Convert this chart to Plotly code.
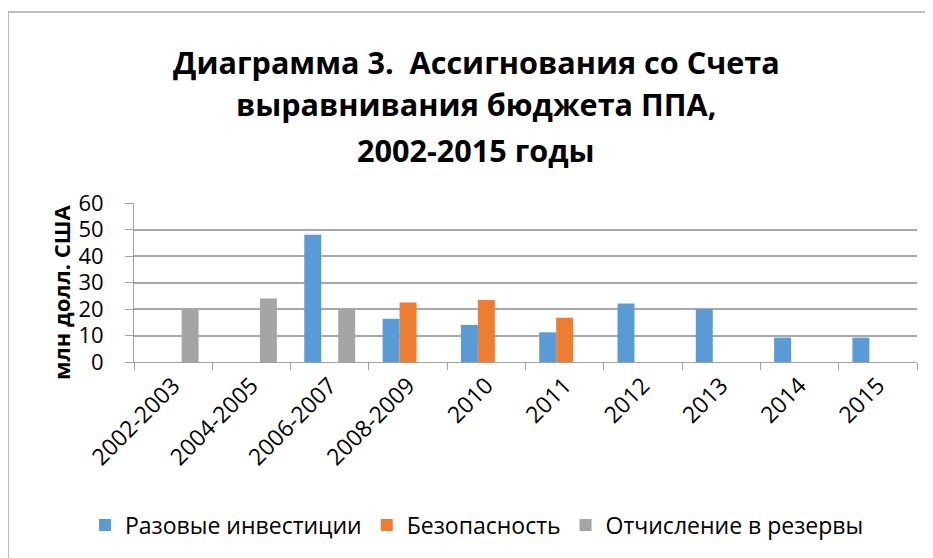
import plotly.graph_objects as go

categories = ["2002-2003", "2004-2005", "2006-2007", "2008-2009", "2010",
              "2011", "2012", "2013", "2014", "2015"]
razovye = [None, None, 48, 16.3, 14, 11.2, 22.1, 20, 9.2, 9.2]
bezopasnost = [None, None, None, 22.5, 23.4, 16.7, None, None, None, None]
otchislenie = [20, 24, 20, None, None, None, None, None, None, None]

series_names = ["Разовые инвестиции", "Безопасность", "Отчисление в резервы"]
colors = ["#5B9BD5", "#ED7D31", "#A5A5A5"]
title_lines = ["Диаграмма 3.  Ассигнования со Счета",
               "выравнивания бюджета ППА,",
               "2002-2015 годы"]
y_title = "млн долл. США"

font_family = "Open Sans, Noto Sans, DejaVu Sans, sans-serif"

OFF = 8  # page body margin
W, H = 925, 550
L, R, T, B = 134 - OFF, 16, 203 - OFF, 196
PH = H - T - B
PW = W - L - R

def py(p):
    return (H - B - (p - OFF)) / PH

def px(p):
    return (p - OFF - L) / PW

fig = go.Figure()
for name, vals, col in zip(series_names, [razovye, bezopasnost, otchislenie], colors):
    fig.add_trace(go.Bar(x=categories, y=vals, name=name, marker_color=col,
                         marker_line_width=0))

fig.update_layout(
    width=W, height=H,
    margin=dict(l=L, r=R, t=T, b=B, autoexpand=False),
    paper_bgcolor="white", plot_bgcolor="white",
    barmode="group", bargap=0.35, bargroupgap=0,
    font=dict(family=font_family, color="black"),
    showlegend=True,
    legend=dict(orientation="h", x=(477 - OFF) / W, xanchor="center", xref="container",
                y=1 - (525 - OFF) / H, yanchor="middle", yref="container",
                font=dict(size=23), traceorder="normal", itemwidth=30),
    xaxis=dict(
        type="category", showgrid=False, showline=True, linecolor="#A0A0A0",
        linewidth=1, ticks="outside", tickson="boundaries", ticklen=7,
        tickcolor="#A0A0A0", tickangle=-45, tickfont=dict(size=23),
        automargin=False,
    ),
    yaxis=dict(
        range=[0, 60], dtick=10, showgrid=True, gridcolor="#A8A8A8", gridwidth=1.5,
        showline=True, linecolor="#A0A0A0", ticks="outside", ticklen=8,
        tickcolor="#A0A0A0", tickfont=dict(size=22), ticklabelstandoff=17,
        zeroline=False, automargin=False,
    ),
)

for line, ypix in zip(title_lines, [62, 104, 150]):
    fig.add_annotation(text="<b>" + line + "</b>", x=px(476), xref="paper",
                       xanchor="center", y=py(ypix), yref="paper", yanchor="middle",
                       showarrow=False, font=dict(size=30.6, family=font_family))

fig.add_annotation(text="<b>" + y_title + "</b>", x=px(61), xref="paper",
                   xanchor="center", y=py(293), yref="paper", yanchor="middle",
                   textangle=-90, showarrow=False, font=dict(size=22, family=font_family))

fig.add_shape(type="rect", xref="paper", yref="paper",
              x0=px(8), x1=px(945), y0=py(570), y1=py(12),
              line=dict(color="#A6A6A6", width=1.5), fillcolor="rgba(0,0,0,0)",
              layer="below")

fig.write_html("out.html")
